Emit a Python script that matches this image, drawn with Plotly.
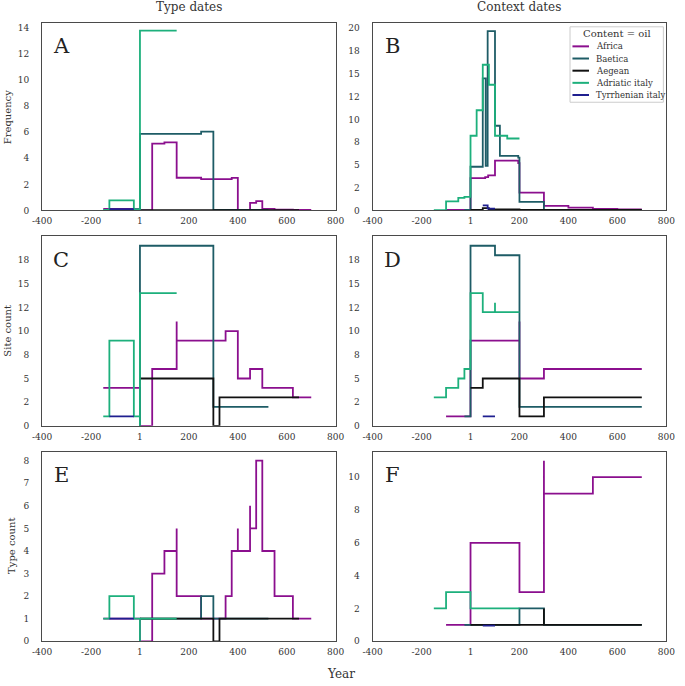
import plotly.graph_objects as go

# ---------------- data ----------------
series_names = ["Africa", "Baetica", "Aegean", "Adriatic italy", "Tyrrhenian italy"]
legend_title = "Content = oil"

x_tickvals = [-400, -200, 0, 200, 400, 600, 800]
x_ticktext = ["-400", "-200", "1", "200", "400", "600", "800"]

# Panel A: Type dates, Frequency
africa_A_x = [-150, 0, 50, 100, 150, 250, 375, 400, 450, 475, 500, 550, 625, 700]
africa_A_y = [0.12, 0, 5.13, 5.23, 2.51, 2.41, 2.5, 0.05, 0.58, 0.71, 0.12, 0.07, 0.04, 0.04]
baetica_A_x = [0, 0, 250, 300, 525]
baetica_A_y = [0, 5.87, 6.05, 0.05, 0.05]
aegean_A_x = [0, 650]
aegean_A_y = [0.03, 0.03]
adriatic_A_x = [-150, -125, -25, 0, 0, 150]
adriatic_A_y = [0.05, 0.78, 0.1, 0, 13.8, 13.8]
tyrrhenian_A_x = [-125, -25]
tyrrhenian_A_y = [0.1, 0.1]

# Panel B: Context dates, Frequency
africa_B_x = [-100, 0, 60, 72, 100, 195, 200, 300, 400, 500, 600, 700]
africa_B_y = [0.05, 3.56, 3.67, 3.85, 5.48, 5.2, 1.96, 0.5, 0.3, 0.18, 0.12, 0.12]
baetica_B_x = [-25, 0, 50, 62, 70, 100, 120, 195, 200, 300, 700]
baetica_B_y = [0.05, 4.8, 14.5, 4.9, 19.7, 9.3, 6.0, 5.8, 0.95, 0.05, 0.05]
aegean_B_x = [0, 50, 75, 200, 700]
aegean_B_y = [0.05, 0.25, 0.12, 0.05, 0.05]
adriatic_B_x = [-150, -100, -50, -25, 0, 25, 50, 75, 100, 150, 200]
adriatic_B_y = [0.02, 1.0, 1.38, 1.49, 8.2, 11.0, 16.0, 13.8, 8.2, 7.9, 7.9]
tyrrhenian_B_x = [50, 70, 100]
tyrrhenian_B_y = [0.55, 0.2, 0.2]

# Panel C: Type dates, Site count
africa_C_x = [-150, 0, 50, 150, 150, 350, 400, 450, 500, 625, 700]
africa_C_y = [4, 0, 6, 11, 9, 10, 5, 6, 4, 3, 3]
baetica_C_x = [0, 0, 300, 525]
baetica_C_y = [0, 19, 2, 2]
aegean_C_x = [0, 300, 325, 650]
aegean_C_y = [5, 0, 3, 3]
adriatic_C_x = [-150, -125, -25, 0, 0, 150]
adriatic_C_y = [1, 9, 1, 0, 14, 14]
tyrrhenian_C_x = [-125, -25]
tyrrhenian_C_y = [1, 1]

# Panel D: Context dates, Site count
africa_D_x = [-100, 0, 200, 200, 300, 700]
africa_D_y = [1, 9, 11, 5, 6, 6]
baetica_D_x = [-25, 0, 100, 200, 700]
baetica_D_y = [1, 19, 18, 2, 2]
aegean_D_x = [0, 50, 200, 300, 700]
aegean_D_y = [4, 5, 1, 3, 3]
adriatic_D_x = [-150, -100, -50, -25, 0, 50, 100, 100, 200]
adriatic_D_y = [3, 4, 5, 6, 14, 12, 13, 12, 12]
tyrrhenian_D_x = [50, 100]
tyrrhenian_D_y = [1, 1]

# Panel E: Type dates, Type count
africa_E_x = [-150, 0, 50, 100, 150, 150, 250, 350, 375, 400, 400, 450, 450, 475, 500, 550, 625, 700]
africa_E_y = [1, 0, 3, 4, 5, 2, 1, 2, 4, 5, 4, 6, 5, 8, 4, 2, 1, 1]
baetica_E_x = [0, 250, 300, 525]
baetica_E_y = [1, 2, 1, 1]
aegean_E_x = [0, 300, 325, 650]
aegean_E_y = [1, 0, 1, 1]
adriatic_E_x = [-150, -125, -25, 0, 0, 150]
adriatic_E_y = [1, 2, 1, 0, 1, 1]
tyrrhenian_E_x = [-125, -25]
tyrrhenian_E_y = [1, 1]

# Panel F: Context dates, Type count
africa_F_x = [-100, 0, 200, 300, 300, 500, 700]
africa_F_y = [1, 6, 3, 11, 9, 10, 10]
baetica_F_x = [-25, 0, 200, 300, 700]
baetica_F_y = [1, 1, 2, 1, 1]
aegean_F_x = [0, 300, 300, 700]
aegean_F_y = [1, 2, 1, 1]
adriatic_F_x = [-150, -100, 0, 200]
adriatic_F_y = [2, 3, 2, 2]
tyrrhenian_F_x = [50, 100]
tyrrhenian_F_y = [0.95, 0.95]

# y tick values / labels
yA_tickvals = [0, 2, 4, 6, 8, 10, 12, 14]
yA_ticktext = ["0", "2", "4", "6", "8", "10", "12", "14"]
yB_tickvals = [0, 2.5, 5, 7.5, 10, 12.5, 15, 17.5, 20]
yB_ticktext = ["0", "2", "5", "8", "10", "12", "15", "18", "20"]
yCD_tickvals = [0, 2.5, 5, 7.5, 10, 12.5, 15, 17.5]
yCD_ticktext = ["0", "2", "5", "8", "10", "12", "15", "18"]
yE_tickvals = [0, 1, 2, 3, 4, 5, 6, 7, 8]
yE_ticktext = ["0", "1", "2", "3", "4", "5", "6", "7", "8"]
yF_tickvals = [0, 2, 4, 6, 8, 10]
yF_ticktext = ["0", "2", "4", "6", "8", "10"]

panel_letters = ["A", "B", "C", "D", "E", "F"]

# ---------------- styling ----------------
colors = {
    "Africa": "#8B0F8E",
    "Baetica": "#1E5C66",
    "Aegean": "#111111",
    "Adriatic italy": "#1DB07C",
    "Tyrrhenian italy": "#1F1F8F",
}
FONT = "DejaVu Serif"
TXT = "#333333"
W, H = 685, 686

panels = {
    "A": [(africa_A_x, africa_A_y), (baetica_A_x, baetica_A_y), (aegean_A_x, aegean_A_y),
          (adriatic_A_x, adriatic_A_y), (tyrrhenian_A_x, tyrrhenian_A_y)],
    "B": [(africa_B_x, africa_B_y), (baetica_B_x, baetica_B_y), (aegean_B_x, aegean_B_y),
          (adriatic_B_x, adriatic_B_y), (tyrrhenian_B_x, tyrrhenian_B_y)],
    "C": [(africa_C_x, africa_C_y), (baetica_C_x, baetica_C_y), (aegean_C_x, aegean_C_y),
          (adriatic_C_x, adriatic_C_y), (tyrrhenian_C_x, tyrrhenian_C_y)],
    "D": [(africa_D_x, africa_D_y), (baetica_D_x, baetica_D_y), (aegean_D_x, aegean_D_y),
          (adriatic_D_x, adriatic_D_y), (tyrrhenian_D_x, tyrrhenian_D_y)],
    "E": [(africa_E_x, africa_E_y), (baetica_E_x, baetica_E_y), (aegean_E_x, aegean_E_y),
          (adriatic_E_x, adriatic_E_y), (tyrrhenian_E_x, tyrrhenian_E_y)],
    "F": [(africa_F_x, africa_F_y), (baetica_F_x, baetica_F_y), (aegean_F_x, aegean_F_y),
          (adriatic_F_x, adriatic_F_y), (tyrrhenian_F_x, tyrrhenian_F_y)],
}

# pixel boxes (left, right) / (top, bottom)
col_px = [(33, 335), (373, 675)]
row_px = [(23, 212), (238, 429), (455, 646)]
yranges = {"A": [0, 14.4], "B": [0, 20.6], "C": [0, 20.0], "D": [0, 20.0], "E": [0, 8.4], "F": [0, 11.55]}
yticks = {"A": (yA_tickvals, yA_ticktext), "B": (yB_tickvals, yB_ticktext),
          "C": (yCD_tickvals, yCD_ticktext), "D": (yCD_tickvals, yCD_ticktext),
          "E": (yE_tickvals, yE_ticktext), "F": (yF_tickvals, yF_ticktext)}

fig = go.Figure()
layout = {}
annotations = []
shapes = []

for i, letter in enumerate(panel_letters):
    r, c = divmod(i, 2)
    idx = "" if i == 0 else str(i + 1)
    xa, ya = "x" + idx, "y" + idx
    for name, (xs, ys) in zip(series_names, panels[letter]):
        fig.add_trace(go.Scatter(
            x=xs, y=ys, mode="lines", line=dict(shape="hv", color=colors[name], width=1.8),
            name=name, legendgroup=name, showlegend=False,
            xaxis=xa, yaxis=ya, hoverinfo="skip"))
    l, rr = col_px[c]
    t, b = row_px[r]
    common = dict(showline=True, mirror=True, linecolor="#4a4a4a", linewidth=1.3,
                  showgrid=False, zeroline=False, ticks="outside", tickcolor="rgba(0,0,0,0)",
                  tickfont=dict(family=FONT, size=9, color=TXT))
    layout["xaxis" + idx] = dict(domain=[l / W, rr / W], range=[-400, 800], anchor=ya,
                                 tickvals=x_tickvals, ticktext=x_ticktext, ticklen=2, **common)
    tv, tt = yticks[letter]
    layout["yaxis" + idx] = dict(domain=[1 - b / H, 1 - t / H], range=yranges[letter], anchor=xa,
                                 tickvals=tv, ticktext=tt, ticklen=10, **common)
    annotations.append(dict(text=letter, x=0.066, y=0.875, xref=xa + " domain", yref=ya + " domain",
                            showarrow=False, xanchor="center", yanchor="middle",
                            font=dict(family=FONT, size=21, color="#222222")))

annotations += [
    dict(text="Type dates", x=184 / W, y=1 - 7 / H, xref="paper", yref="paper", showarrow=False,
         font=dict(family=FONT, size=12, color=TXT), xanchor="center", yanchor="middle"),
    dict(text="Context dates", x=524 / W, y=1 - 7 / H, xref="paper", yref="paper", showarrow=False,
         font=dict(family=FONT, size=12, color=TXT), xanchor="center", yanchor="middle"),
    dict(text="Frequency", x=-3 / W, y=1 - 118 / H, xref="paper", yref="paper", showarrow=False,
         textangle=-90, font=dict(family=FONT, size=10, color=TXT), xanchor="center", yanchor="middle"),
    dict(text="Site count", x=-3 / W, y=1 - 333 / H, xref="paper", yref="paper", showarrow=False,
         textangle=-90, font=dict(family=FONT, size=10, color=TXT), xanchor="center", yanchor="middle"),
    dict(text="Type count", x=2 / W, y=1 - 550 / H, xref="paper", yref="paper", showarrow=False,
         textangle=-90, font=dict(family=FONT, size=10, color=TXT), xanchor="center", yanchor="middle"),
    dict(text="Year", x=340 / W, y=1 - 679 / H, xref="paper", yref="paper", showarrow=False,
         font=dict(family=FONT, size=12, color=TXT), xanchor="center", yanchor="middle"),
]

# compact legend box in panel B (decoration, paper coordinates)
lg_left, lg_right, lg_top, lg_bottom = 576, 672, 27, 103
shapes.append(dict(type="rect", xref="paper", yref="paper",
                   x0=lg_left / W, x1=lg_right / W, y0=1 - lg_bottom / H, y1=1 - lg_top / H,
                   line=dict(color="#cccccc", width=1), fillcolor="rgba(255,255,255,0.9)", layer="above"))
annotations.append(dict(text=legend_title, x=(lg_left + lg_right) / 2 / W, y=1 - 33.5 / H,
                        xref="paper", yref="paper", showarrow=False, xanchor="center", yanchor="middle",
                        font=dict(family=FONT, size=10, color=TXT)))
for k, name in enumerate(series_names):
    yy = 1 - (46.7 + 12.25 * k) / H
    shapes.append(dict(type="line", xref="paper", yref="paper", x0=578.5 / W, x1=595.5 / W,
                       y0=yy, y1=yy, line=dict(color=colors[name], width=2), layer="above"))
    annotations.append(dict(text=name, x=601 / W, y=yy, xref="paper", yref="paper",
                            showarrow=False, xanchor="left", yanchor="middle",
                            font=dict(family=FONT, size=8.5, color=TXT)))

fig.update_layout(
    width=W, height=H, margin=dict(l=0, r=0, t=0, b=0),
    paper_bgcolor="white", plot_bgcolor="white",
    font=dict(family=FONT, color=TXT),
    annotations=annotations, shapes=shapes, showlegend=False,
    **layout,
)

fig.write_html("out.html")
